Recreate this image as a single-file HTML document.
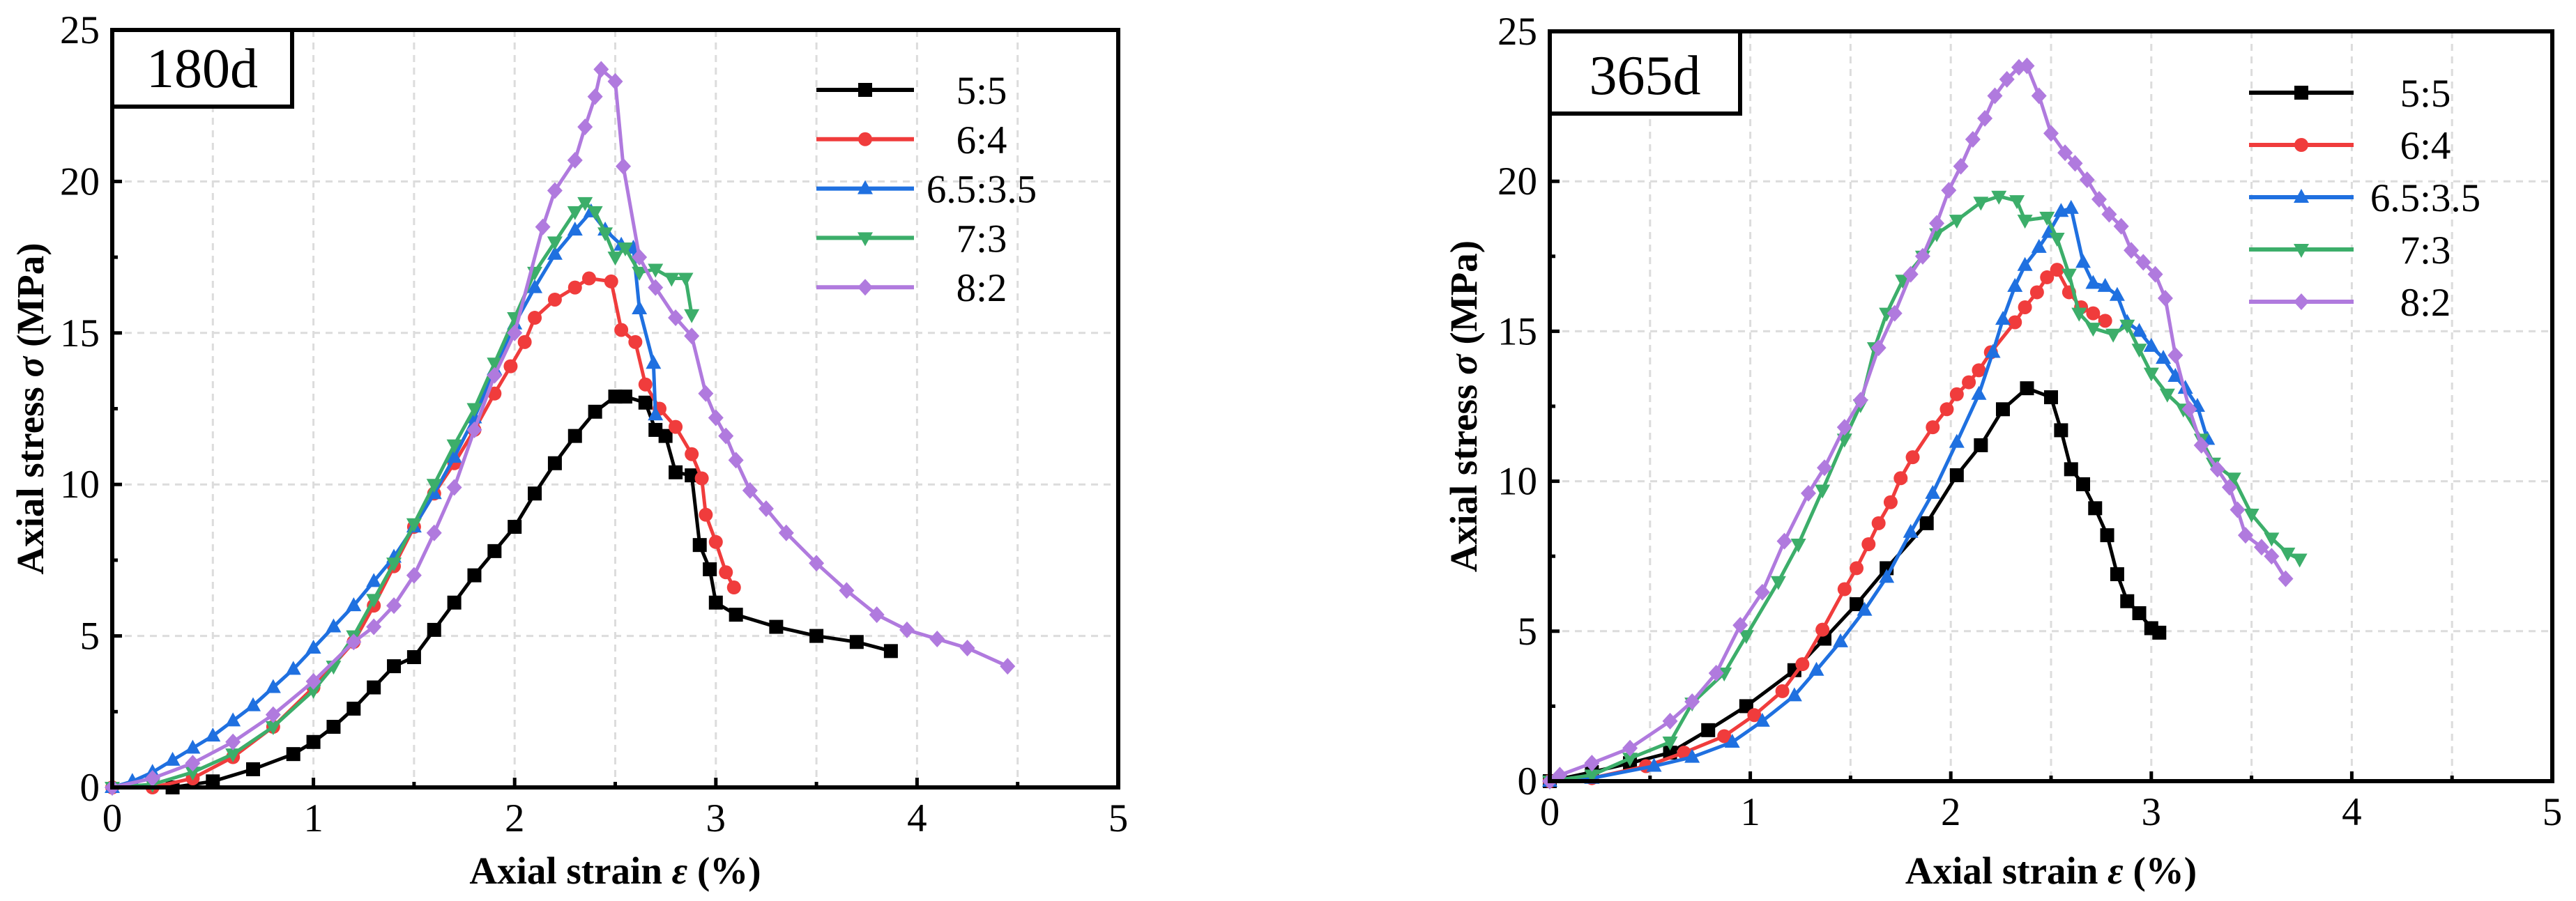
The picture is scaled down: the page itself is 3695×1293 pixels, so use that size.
<!DOCTYPE html>
<html><head><meta charset="utf-8"><style>
html,body{margin:0;padding:0;background:#fff;}
svg{display:block;font-family:"Liberation Serif",serif;}
</style></head><body>
<svg id="fig" width="3695" height="1293" viewBox="0 0 3695 1293" xmlns="http://www.w3.org/2000/svg"></svg>
<script>
// ---- data: 180d ----
const L55x=[0.3,0.5,0.7,0.9,1.0,1.1,1.2,1.3,1.4,1.5,1.6,1.7,1.8,1.9,2.0,2.1,2.2,2.3,2.4,2.5,2.55,2.65,2.7,2.75,2.8,2.88,2.92,2.97,3.0,3.1,3.3,3.5,3.7,3.87];
const L55y=[0,0.2,0.6,1.1,1.5,2.0,2.6,3.3,4.0,4.3,5.2,6.1,7.0,7.8,8.6,9.7,10.7,11.6,12.4,12.9,12.9,12.7,11.8,11.6,10.4,10.3,8.0,7.2,6.1,5.7,5.3,5.0,4.8,4.5];
const L64x=[0,0.2,0.4,0.6,0.8,1.0,1.2,1.3,1.4,1.5,1.6,1.7,1.8,1.9,1.98,2.05,2.1,2.2,2.3,2.37,2.48,2.53,2.6,2.65,2.72,2.8,2.88,2.93,2.95,3.0,3.05,3.09];
const L64y=[0,0,0.3,1.0,2.0,3.3,4.8,6.0,7.3,8.6,9.7,10.7,11.8,13.0,13.9,14.7,15.5,16.1,16.5,16.8,16.7,15.1,14.7,13.3,12.5,11.9,11.0,10.2,9.0,8.1,7.1,6.6];
const L65x=[0,0.1,0.2,0.3,0.4,0.5,0.6,0.7,0.8,0.9,1.0,1.1,1.2,1.3,1.4,1.5,1.6,1.7,1.8,1.9,2.0,2.1,2.2,2.3,2.38,2.45,2.53,2.59,2.62,2.69,2.7];
const L65y=[0,0.2,0.5,0.9,1.3,1.7,2.2,2.7,3.3,3.9,4.6,5.3,6.0,6.8,7.6,8.6,9.7,10.9,12.2,13.8,15.3,16.5,17.6,18.4,19.0,18.4,17.9,17.8,15.8,14.0,12.3];
const L73x=[0,0.2,0.4,0.6,0.8,1.0,1.1,1.2,1.3,1.4,1.5,1.6,1.7,1.8,1.9,2.0,2.1,2.2,2.3,2.35,2.4,2.45,2.5,2.55,2.62,2.7,2.78,2.85,2.88];
const L73y=[0,0.1,0.5,1.1,2.0,3.2,4.0,5.0,6.2,7.4,8.7,10.0,11.3,12.5,14.0,15.5,17.0,18.0,19.0,19.3,19.0,18.3,17.5,17.8,17.0,17.1,16.8,16.8,15.6];
const L82x=[0,0.2,0.4,0.6,0.8,1.0,1.2,1.3,1.4,1.5,1.6,1.7,1.8,1.9,2.0,2.14,2.2,2.3,2.35,2.4,2.43,2.5,2.54,2.62,2.7,2.8,2.88,2.95,3.0,3.05,3.1,3.17,3.25,3.35,3.5,3.65,3.8,3.95,4.1,4.25,4.45];
const L82y=[0,0.3,0.8,1.5,2.4,3.5,4.8,5.3,6.0,7.0,8.4,9.9,11.8,13.6,15.0,18.5,19.7,20.7,21.8,22.8,23.7,23.3,20.5,17.5,16.5,15.5,14.9,13.0,12.2,11.6,10.8,9.8,9.2,8.4,7.4,6.5,5.7,5.2,4.9,4.6,4.0];
// ---- data: 365d ----
const R55x=[0,0.21,0.4,0.6,0.79,0.98,1.22,1.37,1.53,1.68,1.88,2.03,2.15,2.26,2.38,2.5,2.55,2.6,2.66,2.72,2.78,2.83,2.88,2.94,3.0,3.04];
const R55y=[0,0.3,0.6,0.95,1.7,2.5,3.7,4.75,5.9,7.1,8.6,10.2,11.2,12.4,13.1,12.8,11.7,10.4,9.9,9.1,8.2,6.9,6.0,5.6,5.1,4.95];
const R64x=[0,0.21,0.48,0.67,0.87,1.02,1.16,1.26,1.36,1.47,1.53,1.59,1.64,1.7,1.75,1.81,1.91,1.98,2.03,2.09,2.14,2.2,2.32,2.37,2.43,2.48,2.53,2.59,2.65,2.71,2.77];
const R64y=[0,0.1,0.5,0.95,1.5,2.2,3.0,3.9,5.05,6.4,7.1,7.9,8.6,9.3,10.1,10.8,11.8,12.4,12.9,13.3,13.7,14.3,15.3,15.8,16.3,16.8,17.05,16.3,15.8,15.6,15.35];
const R65x=[0,0.21,0.52,0.71,0.91,1.06,1.22,1.33,1.45,1.57,1.68,1.8,1.91,2.03,2.14,2.21,2.26,2.32,2.37,2.44,2.49,2.55,2.6,2.66,2.71,2.77,2.83,2.88,2.94,3.0,3.06,3.12,3.17,3.23,3.28];
const R65y=[0,0.1,0.5,0.8,1.3,2.0,2.85,3.7,4.65,5.7,6.8,8.3,9.6,11.3,12.9,14.3,15.4,16.5,17.2,17.8,18.3,19.0,19.1,17.3,16.6,16.5,16.2,15.3,15.0,14.5,14.1,13.5,13.1,12.5,11.4];
const R73x=[0,0.21,0.4,0.6,0.71,0.87,0.98,1.14,1.24,1.36,1.47,1.55,1.62,1.68,1.76,1.86,1.93,2.03,2.15,2.24,2.33,2.37,2.48,2.53,2.59,2.64,2.71,2.81,2.88,2.94,3.0,3.08,3.16,3.25,3.31,3.41,3.5,3.6,3.68,3.74];
const R73y=[0,0.2,0.76,1.3,2.6,3.6,4.85,6.65,7.9,9.7,11.4,12.55,14.45,15.6,16.7,17.5,18.25,18.7,19.3,19.5,19.35,18.7,18.8,18.1,16.9,15.6,15.1,14.9,15.2,14.4,13.6,12.9,12.4,11.4,10.6,10.1,8.9,8.1,7.6,7.4];
const R82x=[0,0.05,0.21,0.4,0.6,0.71,0.83,0.95,1.06,1.17,1.29,1.37,1.47,1.55,1.64,1.72,1.8,1.86,1.93,1.99,2.05,2.11,2.17,2.22,2.28,2.34,2.38,2.44,2.5,2.57,2.62,2.68,2.74,2.79,2.85,2.9,2.96,3.02,3.07,3.12,3.19,3.25,3.33,3.39,3.43,3.47,3.55,3.6,3.67];
const R82y=[0,0.2,0.6,1.1,2.0,2.65,3.6,5.2,6.3,8.0,9.6,10.45,11.8,12.7,14.45,15.6,16.9,17.5,18.6,19.7,20.5,21.4,22.1,22.85,23.4,23.8,23.85,22.85,21.6,20.95,20.6,20.05,19.4,18.9,18.5,17.7,17.3,16.9,16.1,14.2,12.4,11.2,10.4,9.8,9.05,8.2,7.8,7.5,6.75];
const seriesNames=["5:5","6:4","6.5:3.5","7:3","8:2"];
const xTicks=[0,1,2,3,4,5];
const yTicks=[0,5,10,15,20,25];

const NS="http://www.w3.org/2000/svg";
const svg=document.getElementById('fig');
function mk(tag,attrs,parent){const e=document.createElementNS(NS,tag);for(const k in attrs)e.setAttribute(k,attrs[k]);(parent||svg).appendChild(e);return e;}
const colors=["#000000","#f03c3c","#1f70e0","#3cae6a","#b07ade"];
const shapes=["square","circle","tri-up","tri-down","diamond"];
function marker(g,shape,cx,cy,c){
  const s=10;let e;
  if(shape==="square")e=mk('rect',{x:cx-s,y:cy-s,width:2*s,height:2*s,fill:c},g);
  else if(shape==="circle")e=mk('circle',{cx:cx,cy:cy,r:s,fill:c},g);
  else if(shape==="tri-up")e=mk('polygon',{points:`${cx},${cy-12} ${cx+11},${cy+8} ${cx-11},${cy+8}`,fill:c},g);
  else if(shape==="tri-down")e=mk('polygon',{points:`${cx},${cy+12} ${cx+11},${cy-8} ${cx-11},${cy-8}`,fill:c},g);
  else e=mk('polygon',{points:`${cx},${cy-12} ${cx+11},${cy} ${cx},${cy+12} ${cx-11},${cy}`,fill:c},g);
  
  
}
function chart(cfg,data){
  const {x0,x1,yTop,yBot,id}=cfg;
  const X=v=>x0+(x1-x0)*v/5, Y=v=>yBot-(yBot-yTop)*v/25;
  const g=mk('g',{});
  
  
  // grid
  for(let v=0.5;v<5;v+=0.5){const l=mk('line',{x1:X(v),x2:X(v),y1:yTop,y2:yBot,stroke:'#dcdcdc','stroke-width':3,'stroke-dasharray':'10 8'},g);
    }
  for(let v=5;v<25;v+=5){const l=mk('line',{x1:x0,x2:x1,y1:Y(v),y2:Y(v),stroke:'#dcdcdc','stroke-width':3,'stroke-dasharray':'10 8'},g);
    }
  // series
  data.forEach((d,i)=>{
    const sg=mk('g',{},g);
    
    
    const pts=d[0].map((xv,k)=>X(xv)+','+Y(d[1][k])).join(' ');
    mk('polyline',{points:pts,fill:'none',stroke:colors[i],'stroke-width':5,'stroke-linejoin':'round'},sg);
    d[0].forEach((xv,k)=>marker(sg,shapes[i],X(xv),Y(d[1][k]),colors[i]));
  });
  // ticks
  xTicks.forEach(v=>{
    mk('line',{x1:X(v),x2:X(v),y1:yBot,y2:yBot-14,stroke:'#000','stroke-width':5},g);
    if(v<5)mk('line',{x1:X(v+0.5),x2:X(v+0.5),y1:yBot,y2:yBot-8,stroke:'#000','stroke-width':5},g);
    const t=mk('text',{x:X(v),y:yBot+63,'font-size':57,'text-anchor':'middle'},g);t.textContent=v;
    
  });
  yTicks.forEach(v=>{
    mk('line',{x1:x0,x2:x0+14,y1:Y(v),y2:Y(v),stroke:'#000','stroke-width':5},g);
    if(v<25)mk('line',{x1:x0,x2:x0+8,y1:Y(v+2.5),y2:Y(v+2.5),stroke:'#000','stroke-width':5},g);
    const t=mk('text',{x:x0-18,y:Y(v)+19,'font-size':57,'text-anchor':'end'},g);t.textContent=v;
    
  });
  const fr=mk('rect',{x:x0,y:yTop,width:x1-x0,height:yBot-yTop,fill:'none',stroke:'#000','stroke-width':6},g);
  
  // label box
  const lb=mk('rect',{x:x0,y:yTop,width:cfg.boxR-x0,height:cfg.boxB-yTop,fill:'#fff',stroke:'#000','stroke-width':6},g);
  
  const lt=mk('text',{x:(x0+cfg.boxR)/2,y:cfg.boxB-28,'font-size':80,'text-anchor':'middle'},g);lt.textContent=cfg.label;
  
  // legend
  seriesNames.forEach((n,i)=>{
    const ly=cfg.legY+cfg.legDy*i;
    const lg=mk('g',{},g);
    
    
    mk('line',{x1:cfg.legX1,x2:cfg.legX2,y1:ly,y2:ly,stroke:colors[i],'stroke-width':6},lg);
    marker(lg,shapes[i],(cfg.legX1+cfg.legX2)/2,ly,colors[i]);
    const t=mk('text',{x:cfg.legTx,y:ly+20,'font-size':57,'text-anchor':'middle'},lg);t.textContent=n;
  });
  // axis titles
  const xt=mk('text',{x:(x0+x1)/2,y:1268,'font-size':55,'font-weight':'bold','text-anchor':'middle'},g);
  xt.innerHTML='Axial strain <tspan font-style="italic">ε</tspan> (%)';
  
  const yt=mk('text',{x:0,y:0,'font-size':55,'font-weight':'bold','text-anchor':'middle',transform:`translate(${cfg.ytX},${(yTop+yBot)/2}) rotate(-90)`},g);
  yt.innerHTML='Axial stress <tspan font-style="italic">σ</tspan> (MPa)';
  
}
chart({id:'180d',label:'180d',x0:161,x1:1604,yTop:43,yBot:1130,boxR:419,boxB:153,legX1:1171,legX2:1311,legTx:1408,legY:129,legDy:70.8,ytX:62},
  [[L55x,L55y],[L64x,L64y],[L65x,L65y],[L73x,L73y],[L82x,L82y]]);
chart({id:'365d',label:'365d',x0:2223,x1:3661,yTop:45,yBot:1121,boxR:2496,boxB:163,legX1:3226,legX2:3376,legTx:3479,legY:133,legDy:75,ytX:2118},
  [[R55x,R55y],[R64x,R64y],[R65x,R65y],[R73x,R73y],[R82x,R82y]]);
</script>
</body></html>
